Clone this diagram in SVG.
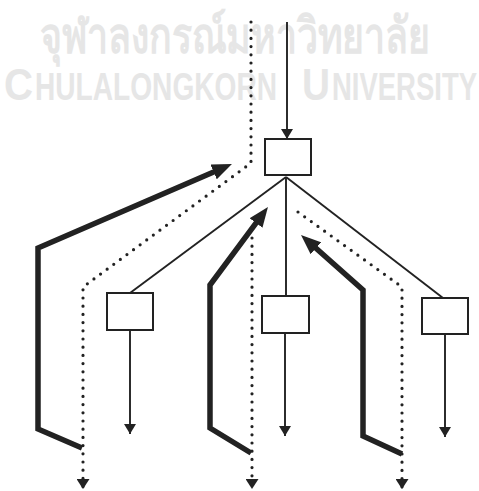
<svg xmlns="http://www.w3.org/2000/svg" width="479" height="491" viewBox="0 0 479 491">
  <style>
    .wm { fill: #e6e6e6; font-family: "Liberation Sans", "DejaVu Sans", "Noto Sans", sans-serif; font-weight: bold; }
    .box { fill: #fff; stroke: #222; stroke-width: 2; }
    .thin { fill: none; stroke: #222; stroke-width: 1.9; }
    .dot { fill: none; stroke: #222; stroke-width: 3.2; stroke-linecap: round; stroke-dasharray: 0 8.2; }
    .thick { fill: none; stroke: #222; stroke-width: 5.5; stroke-linejoin: miter; }
  </style>
  <defs>
    <marker id="headThin" markerUnits="userSpaceOnUse" markerWidth="12" markerHeight="12" refX="10" refY="6" orient="auto" viewBox="0 0 10 12">
      <path d="M0,0 L10,6 L0,12 z" fill="#222"/>
    </marker>
    <marker id="headDot" markerUnits="userSpaceOnUse" markerWidth="10" markerHeight="13" refX="10" refY="6.5" orient="auto" viewBox="0 0 10 13">
      <path d="M0,0 L10,6.5 L0,13 z" fill="#222"/>
    </marker>
    <marker id="headThick" markerUnits="userSpaceOnUse" markerWidth="20" markerHeight="16" refX="12" refY="8" orient="auto" viewBox="0 0 20 16">
      <path d="M0,0 L20,8 L0,16 z" fill="#222"/>
    </marker>
  </defs>

  <!-- background lettering -->
  <g id="watermark">
    <text class="wm" x="40" y="53" font-size="50" textLength="390" lengthAdjust="spacingAndGlyphs">จุฬาลงกรณ์มหาวิทยาลัย</text>
    <text class="wm" x="4" y="100" font-size="45" textLength="29" lengthAdjust="spacingAndGlyphs">C</text>
    <text class="wm" x="35" y="100" font-size="38" textLength="242" lengthAdjust="spacingAndGlyphs">HULALONGKORN</text>
    <text class="wm" x="302" y="100" font-size="45" textLength="28" lengthAdjust="spacingAndGlyphs">U</text>
    <text class="wm" x="332" y="100" font-size="38" textLength="145" lengthAdjust="spacingAndGlyphs">NIVERSITY</text>
  </g>

  <g id="connectors">
    <!-- incoming flow to the top node -->
    <path class="thin" d="M287,22 V139" marker-end="url(#headThin)"/>
    <!-- fan-out to the three lower nodes -->
    <path class="thin" d="M286,177 L130,293"/>
    <path class="thin" d="M286,177 V296"/>
    <path class="thin" d="M286,177 L443,298"/>
    <!-- outputs of the lower nodes -->
    <path class="thin" d="M130,330 V434" marker-end="url(#headThin)"/>
    <path class="thin" d="M285,333 V436" marker-end="url(#headThin)"/>
    <path class="thin" d="M445,334 V437" marker-end="url(#headThin)"/>
    <!-- dotted flows -->
    <path class="dot" d="M251,22 V163 L83,287 V489" marker-end="url(#headDot)"/>
    <path class="dot" d="M252,238 V489" marker-end="url(#headDot)"/>
    <path class="dot" d="M298,212 L402,287 V489" marker-end="url(#headDot)"/>
    <!-- heavy return paths -->
    <path class="thick" d="M82,448 L38,429 V248 L224.6,167.2" marker-end="url(#headThick)"/>
    <path class="thick" d="M251,453 L210,428 V285 L263.2,213.4" marker-end="url(#headThick)"/>
    <path class="thick" d="M402,454 L363,436 V290 L307,240.3" marker-end="url(#headThick)"/>
  </g>

  <g id="node-top"><rect class="box" x="265" y="139" width="46" height="36"/></g>
  <g id="node-left"><rect class="box" x="107" y="293" width="46" height="37"/></g>
  <g id="node-middle"><rect class="box" x="262" y="296" width="47" height="37"/></g>
  <g id="node-right"><rect class="box" x="422" y="298" width="46" height="36"/></g>
</svg>
